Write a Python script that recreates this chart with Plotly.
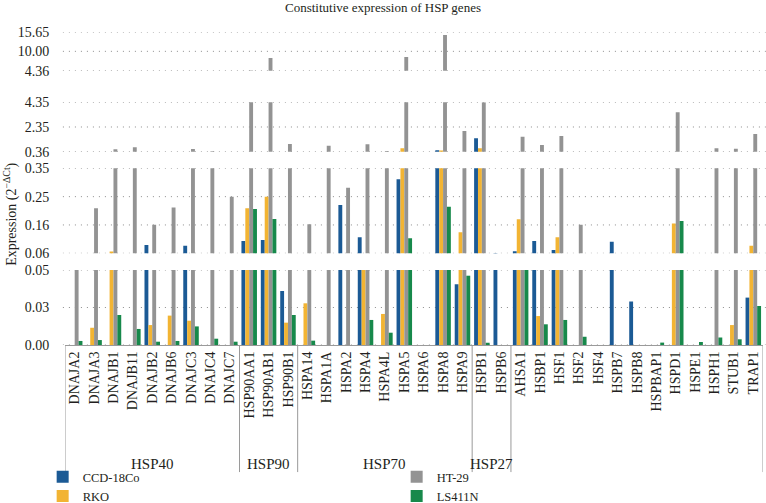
import plotly.graph_objects as go

genes = ["DNAJA2", "DNAJA3", "DNAJB1", "DNAJB11", "DNAJB2", "DNAJB6", "DNAJC3", "DNAJC4", "DNAJC7",
         "HSP90AA1", "HSP90AB1", "HSP90B1",
         "HSPA14", "HSPA1A", "HSPA2", "HSPA4", "HSPA4L", "HSPA5", "HSPA6", "HSPA8", "HSPA9",
         "HSPB1", "HSPB6",
         "AHSA1", "HSBP1", "HSF1", "HSF2", "HSF4", "HSPB7", "HSPB8", "HSPBAP1", "HSPD1", "HSPE1",
         "HSPH1", "STUB1", "TRAP1"]

ccd18co = [0, 0, 0, 0, 0.088, 0, 0.086, 0, 0,
           0.102, 0.105, 0.036,
           0, 0, 0.225, 0.115, 0, 0.313, 0, 0.47, 0.0405,
           1.45, 0.061,
           0.067, 0.102, 0.071, 0, 0, 0.099, 0.029, 0, 0, 0,
           0, 0, 0.0316]
rko = [0, 0.0115, 0.066, 0, 0.0133, 0.0196, 0.0162, 0, 0,
       0.214, 0.253, 0.0149,
       0.0278, 0, 0, 0.055, 0.0207, 0.635, 0, 0.45, 0.132,
       0.63, 0,
       0.176, 0.0193, 0.115, 0, 0, 0, 0, 0, 0.162, 0,
       0, 0.0133, 0.086]
ht29 = [0.055, 0.2135, 0.55, 0.715, 0.157, 0.216, 0.578, 0.40, 0.253,
        4.4, 8.05, 0.98,
        0.159, 0.845, 0.284, 0.96, 0.42, 8.33, 0, 14.75, 2.03,
        4.36, 0,
        1.57, 0.9, 1.63, 0.157, 0, 0, 0, 0, 3.54, 0,
        0.635, 0.6, 1.79]
ls411n = [0.0027, 0.0033, 0.02, 0.0107, 0.0022, 0.0027, 0.0124, 0.0042, 0.0022,
          0.211, 0.177, 0.02,
          0.0029, 0, 0, 0.0167, 0.0082, 0.111, 0, 0.219, 0.0462,
          0.0015, 0,
          0.055, 0.0138, 0.0167, 0.0055, 0, 0, 0, 0.0016, 0.17, 0.002,
          0.005, 0.0038, 0.026]

series_names = ["CCD-18Co", "RKO", "HT-29", "LS411N"]
series_values = [ccd18co, rko, ht29, ls411n]
series_colors = ["#1b5a95", "#f2b433", "#939393", "#17894b"]
legend_ranks = [1, 3, 2, 4]

group_names = ["HSP40", "HSP90", "HSP70", "HSP27", ""]
group_sizes = [9, 3, 9, 2, 13]

# broken axis panels, bottom to top
panel_ranges = [[0, 0.05], [0.06, 0.35], [0.36, 4.35], [4.36, 15.65]]
panel_tickvals = [[0, 0.025, 0.05], [0.06, 0.1567, 0.2533, 0.35], [0.36, 2.355, 4.35], [4.36, 10.005, 15.65]]
panel_ticktext = [["0.00", "0.03", "0.05"], ["0.06", "0.16", "0.25", "0.35"],
                  ["0.36", "2.35", "4.35"], ["4.36", "10.00", "15.65"]]
panel_domains = [[0, 0.2396], [0.293, 0.5645], [0.6176, 0.7754], [0.8764, 1.0]]

FONT = "Liberation Serif"
TXT = "#231f20"

fig = go.Figure()
for p in range(4):
    yname = "y" if p == 0 else f"y{p + 1}"
    for s in range(4):
        fig.add_trace(go.Bar(
            x=genes, y=series_values[s], name=series_names[s],
            marker=dict(color=series_colors[s], line=dict(width=0)),
            showlegend=(p == 0), legendrank=legend_ranks[s],
            xaxis="x", yaxis=yname, hoverinfo="x+y+name"))

shapes = []
for p in range(4):
    yref = "y" if p == 0 else f"y{p + 1}"
    for tv in panel_tickvals[p]:
        shapes.append(dict(type="line", xref="paper", x0=-0.003, x1=1.004, yref=yref, y0=tv, y1=tv,
                           line=dict(color="#8c8c8c", width=1, dash="1px,5px"), layer="below"))

annotations = []
start = -0.5
for name, size in zip(group_names, group_sizes):
    end = start + size
    shapes.append(dict(type="line", xref="x", x0=start, x1=start, yref="paper", y0=0, y1=-0.406,
                       line=dict(color="#9a9a9a", width=1)))
    if name:
        annotations.append(dict(text=name, xref="x", x=(start + end) / 2, yref="paper", y=-0.38,
                                xanchor="center", yanchor="middle",
                                showarrow=False, font=dict(family=FONT, size=15, color=TXT)))
    start = end
shapes.append(dict(type="line", xref="x", x0=start, x1=start, yref="paper", y0=0, y1=-0.406,
                   line=dict(color="#9a9a9a", width=1)))

annotations.append(dict(text="Expression (2<sup>−ΔCt</sup>)", xref="paper", x=-0.079, yref="paper", y=0.4185,
                        xanchor="center", yanchor="middle",
                        textangle=-90, showarrow=False, font=dict(family=FONT, size=14, color=TXT)))

layout = dict(
    width=766, height=503,
    margin=dict(l=65, r=3, t=32, b=158, autoexpand=False),
    paper_bgcolor="white", plot_bgcolor="white",
    barmode="group", bargap=0.2, bargroupgap=0,
    title=dict(text="Constitutive expression of HSP genes", x=0.5, xanchor="center", y=0.985, yanchor="middle",
               font=dict(family=FONT, size=13, color=TXT)),
    font=dict(family=FONT, color=TXT),
    showlegend=True,
    legend=dict(orientation="h", x=-0.032, xanchor="left", y=-0.374, yanchor="top",
                entrywidth=309, entrywidthmode="pixels", tracegroupgap=0,
                font=dict(family=FONT, size=12.5, color=TXT),
                itemclick=False, bgcolor="rgba(0,0,0,0)"),
    xaxis=dict(type="category", range=[-0.5, len(genes) - 0.5], tickangle=-90, showgrid=False,
               zeroline=False, showline=True, linecolor="#9a9a9a", linewidth=1, ticks="",
               tickfont=dict(family=FONT, size=14, color=TXT), anchor="y"),
    shapes=shapes, annotations=annotations,
)
for p in range(4):
    key = "yaxis" if p == 0 else f"yaxis{p + 1}"
    layout[key] = dict(domain=panel_domains[p], range=panel_ranges[p], anchor="x",
                       tickmode="array", tickvals=panel_tickvals[p], ticktext=panel_ticktext[p],
                       showgrid=False, zeroline=False, showline=False,
                       ticks="outside", ticklen=12, tickcolor="rgba(0,0,0,0)",
                       tickfont=dict(family=FONT, size=14, color=TXT))
fig.update_layout(**layout)
fig.write_html("out.html", config={"displayModeBar": False},
               post_script="document.body.style.margin='0';")
